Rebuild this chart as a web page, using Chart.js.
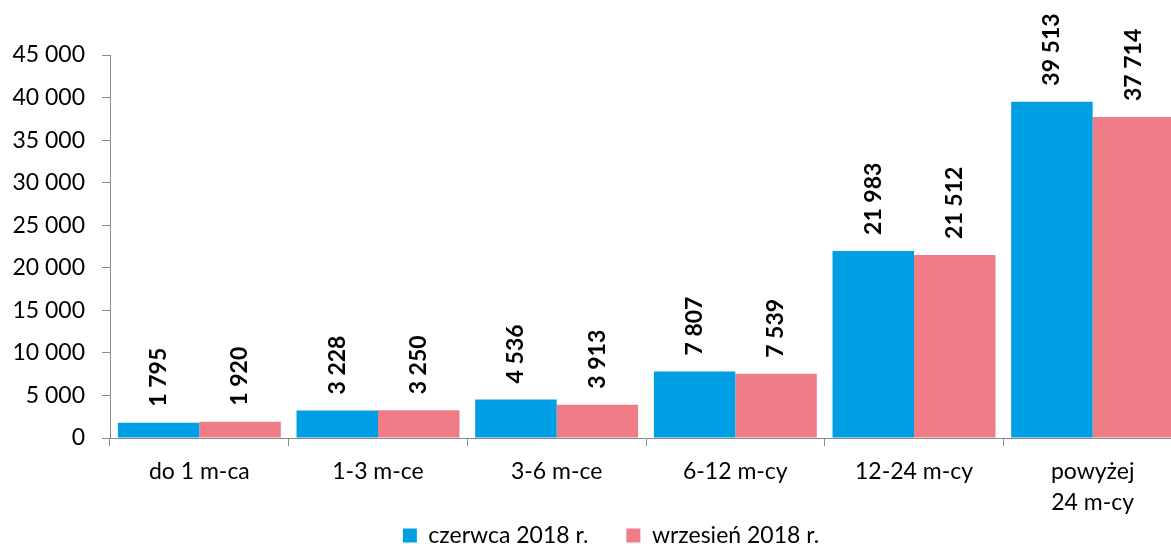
<!DOCTYPE html>
<html lang="pl">
<head>
<meta charset="utf-8">
<title>Bezrobotni według czasu pozostawania bez pracy</title>
<script src="https://cdn.jsdelivr.net/npm/chart.js@4.4.1/dist/chart.umd.min.js"></script>
<style>
    html, body { margin: 0; padding: 0; overflow: hidden; background: #fff; }
</style>
</head>
<body>
<canvas id="wykres" width="1182" height="589"></canvas>
<script>
// Dane
const kategorie = ['do 1 m-ca', '1-3 m-ce', '3-6 m-ce', '6-12 m-cy', '12-24 m-cy', ['powyżej', '24 m-cy']];
const czerwiec = [1795, 3228, 4536, 7807, 21983, 39513];
const wrzesien = [1920, 3250, 3913, 7539, 21512, 37714];
const nazwySerii = ['czerwca 2018 r.', 'wrzesień 2018 r.'];

const FONT = 'Lato';
const SZARY = '#8a8a8a';

// Format liczb ze spacją jako separatorem tysięcy
function formatuj(v) {
    return String(v).replace(/\B(?=(\d{3})+(?!\d))/g, ' ');
}

// Pionowe etykiety wartości nad słupkami
const etykietyPlugin = {
    id: 'etykiety',
    afterDatasetsDraw(chart) {
        const ctx = chart.ctx;
        ctx.save();
        ctx.font = 'bold 23px ' + FONT;
        ctx.fillStyle = '#000';
        ctx.textAlign = 'left';
        ctx.textBaseline = 'middle';
        chart.data.datasets.forEach((ds, i) => {
            chart.getDatasetMeta(i).data.forEach((bar, j) => {
                ctx.save();
                ctx.translate(bar.x, bar.y - 16);
                ctx.rotate(-Math.PI / 2);
                ctx.fillText(formatuj(ds.data[j]), 0, 0);
                ctx.restore();
            });
        });
        ctx.restore();
    }
};

// Legenda trochę wyżej i w prawo (jak w oryginale)
const legendaPlugin = {
    id: 'przesunLegende',
    afterLayout(chart) {
        const lg = chart.legend;
        lg.top -= 32;
        lg.bottom -= 32;
        lg.left += 15;
        lg.right += 15;
    }
};

const canvas = document.getElementById('wykres');

new Chart(canvas, {
    type: 'bar',
    data: {
        labels: kategorie,
        datasets: [{
            label: nazwySerii[0],
            data: czerwiec,
            backgroundColor: '#009FE3'
        }, {
            label: nazwySerii[1],
            data: wrzesien,
            backgroundColor: '#F07C87'
        }]
    },
    options: {
        responsive: false,
        animation: false,
        layout: {
            padding: { top: 55, left: 10, right: 0, bottom: 0 }
        },
        datasets: {
            bar: {
                categoryPercentage: 0.912,
                barPercentage: 1
            }
        },
        scales: {
            x: {
                grid: {
                    display: true,
                    drawOnChartArea: false,
                    tickLength: 8,
                    color: SZARY
                },
                border: { color: SZARY },
                ticks: {
                    color: '#000',
                    padding: 10,
                    maxRotation: 0,
                    font: { family: FONT, size: 23, lineHeight: 1.35 }
                },
                afterFit: (axis) => { axis.height = 80; }
            },
            y: {
                min: 0,
                max: 45000,
                grid: {
                    drawOnChartArea: false,
                    tickLength: 8,
                    color: SZARY
                },
                border: { color: SZARY },
                ticks: {
                    stepSize: 5000,
                    color: '#000',
                    padding: 17,
                    font: { family: FONT, size: 23 },
                    callback: (v) => formatuj(v)
                },
                afterFit: (axis) => { axis.width = 100; }
            }
        },
        plugins: {
            legend: {
                position: 'bottom',
                labels: {
                    color: '#000',
                    boxWidth: 14,
                    boxHeight: 14,
                    padding: 38,
                    font: { family: FONT, size: 23 }
                }
            },
            tooltip: { enabled: false }
        }
    },
    plugins: [etykietyPlugin, legendaPlugin]
});
</script>
</body>
</html>
